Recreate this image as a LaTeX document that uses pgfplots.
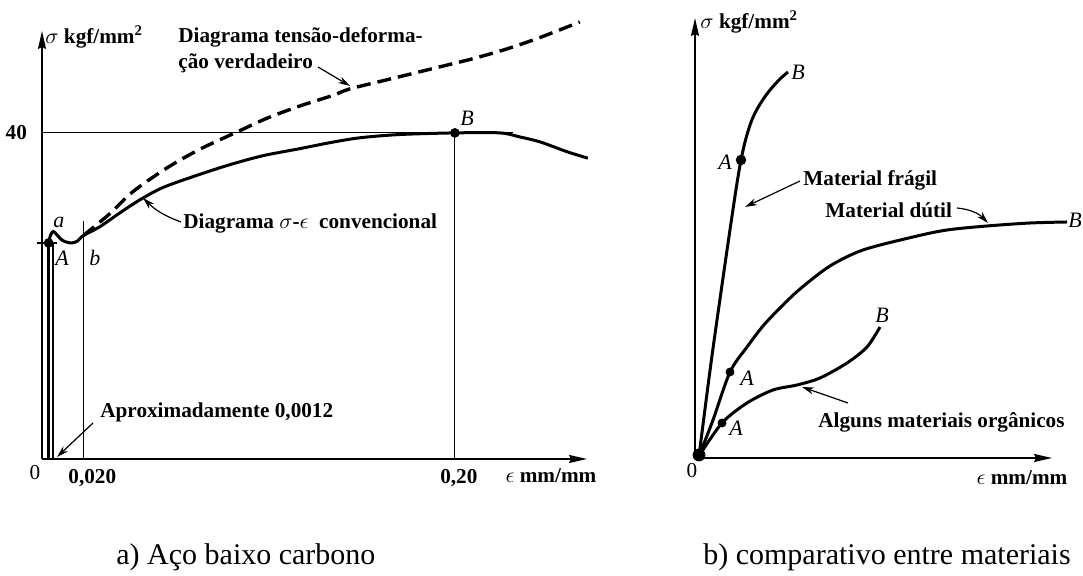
\documentclass[border=0pt]{standalone}
\usepackage{fontspec}
\setmainfont{Liberation Serif}
\usepackage{pgfplots}
\pgfplotsset{compat=1.18}
\usetikzlibrary{arrows.meta}

\newcommand\lbl{\bfseries\fontsize{10.6}{12.7}\selectfont}
\newcommand\ptl{\itshape\fontsize{11}{13}\selectfont}
\newcommand\capt{\fontsize{15}{17}\selectfont}

\pgfplotsset{
  sketch/.style={
    axis lines=left,
    axis line style={line width=0.9pt,-{Stealth[length=9pt,width=4pt,inset=1pt]}},
    scale only axis,
    xtick=\empty, ytick=\empty,
    clip=false,
    anchor=origin,
  },
  curve/.style={black, line width=1.5pt, smooth, no marks},
  thin/.style={black, line width=0.6pt, no marks},
}
\tikzset{annot/.style={line width=0.6pt, -{Stealth[length=6pt,width=3.5pt]}}}

\begin{document}
\begin{tikzpicture}
\path[use as bounding box] (0pt,0pt) rectangle (541.5pt,288pt);

% a) low carbon steel
\begin{axis}[sketch, at={(21pt,58.5pt)}, width=272.5pt, height=214pt,
  xmin=0, xmax=0.264, ymin=0, ymax=52.5]
\addplot[thin] coordinates {(0,40) (0.228,40)};
\addplot[thin] coordinates {(0.2,0) (0.2,40)};
\addplot[thin] coordinates {(0.02,0) (0.02,29.2)};
\addplot[thin] coordinates {(0.0053,0) (0.0053,26.5)};
\addplot[thin] coordinates {(-0.0024,26.5) (0.0073,26.5)};
\addplot[black, line width=1.8pt, no marks] coordinates {(0.0032,0) (0.0032,26.5)};
% conventional
\addplot[curve] coordinates {
  (0.0032,26.5) (0.0042,27.5) (0.0055,27.9) (0.0072,27.5) (0.010,26.8)
  (0.014,26.5) (0.017,26.7) (0.020,27.4) (0.0281,28.5) (0.0378,30.2) (0.0475,31.8)
  (0.0586,33.3) (0.0751,34.8) (0.0910,36.1) (0.1070,37.2) (0.1235,38.0)
  (0.1395,38.8) (0.1540,39.4) (0.1734,39.8) (0.2000,40.0) (0.2218,40.0)
  (0.2315,39.5) (0.2412,38.9) (0.2542,37.7) (0.2644,36.9)};
% true stress-strain
\addplot[curve, dash pattern=on 7pt off 3.5pt, line width=1.7pt] coordinates {
  (0.020,27.4) (0.0329,30.1) (0.0441,32.8) (0.0605,35.7) (0.0765,38.0)
  (0.0935,40.0) (0.1090,41.8) (0.1249,43.3) (0.1409,44.6) (0.1492,45.4)
  (0.1685,46.6) (0.1927,48.1) (0.2087,49.1) (0.2252,50.3) (0.2412,51.7)
  (0.2605,53.6)};
\addplot[only marks, mark=*, mark size=2.2pt] coordinates {(0.0032,26.5) (0.2,40)};
% tick labels
\node[font=\lbl, anchor=north, xshift=4.5pt, yshift=-1.5pt] at (axis cs:0.02,0) {0,020};
\node[font=\lbl, anchor=north, xshift=2pt, yshift=-1.5pt] at (axis cs:0.2,0) {0,20};
\node[font=\lbl, anchor=east, xshift=-4pt] at (axis cs:0,40) {40};
\end{axis}

% b) comparison of materials
\begin{axis}[sketch, at={(347.5pt,59pt)}, width=178.5pt, height=220pt,
  xmin=0, xmax=357, ymin=0, ymax=440]
% brittle
\addplot[curve] coordinates {
  (4,2) (16,95) (28,180) (36,235) (42,275) (46,298) (50,316) (55,333)
  (60,345) (67,357) (75,368) (85,379) (93,386)};
% ductile
\addplot[curve] coordinates {
  (4,2) (18,38) (35,86) (52,111) (68,132) (85,150) (105,169) (135,192)
  (168,208) (218,221) (252,228) (292,232) (335,235) (372,236)};
% organic
\addplot[curve] coordinates {
  (4,2) (27,35) (52,55) (78,68) (102,73) (125,80) (152,95) (172,111) (185,131)};
\addplot[only marks, mark=*, mark size=2.4pt] coordinates {(46,298)};
\addplot[only marks, mark=square*, mark size=2pt] coordinates {(35,86) (27,35)};
\addplot[only marks, mark=*, mark size=3pt] coordinates {(4,3)};
\end{axis}

\begin{scope}[x=0.5pt, y=0.5pt]
% left annotations
\node[anchor=west, inner sep=0] at (45,539) {\lbl$\sigma$ kgf/mm\textsuperscript{2}};
\node[anchor=base west, inner sep=0] at (178,533) {\lbl Diagrama tensão-deforma-};
\node[anchor=base west, inner sep=0] at (178,507) {\lbl ção verdadeiro};
\draw[annot] (318,509) -- (350,490);
\node[anchor=base west, inner sep=0] at (183,347) {\lbl Diagrama $\sigma$-$\epsilon$\ \ convencional};
\draw[annot] (181,354) to[bend left=12] (143,378);
\node[anchor=base west, inner sep=0] at (100,158) {\lbl Aproximadamente 0,0012};
\draw[annot] (93,153) -- (57,119);
\node at (59,354) {\ptl a};
\node at (62,318) {\ptl A};
\node at (95,318) {\ptl b};
\node at (467,458) {\ptl B};
\node at (35,103) {\fontsize{10.6}{12}\selectfont 0};
\node at (551,100) {\lbl$\epsilon$ mm/mm};
\node[anchor=base west, inner sep=0] at (116,11) {\capt a) Aço baixo carbono};

% right annotations
\node[anchor=west, inner sep=0] at (700,554) {\lbl$\sigma$ kgf/mm\textsuperscript{2}};
\node at (798,504) {\ptl B};
\node at (725,414) {\ptl A};
\node[anchor=west, inner sep=0] at (803,396) {\lbl Material frágil};
\draw[annot] (800,395) -- (745,369);
\node[anchor=west, inner sep=0] at (825,366) {\lbl Material dútil};
\draw[annot] (957,368) to[bend left=20] (988,353);
\node at (1075,356) {\ptl B};
\node at (747,198) {\ptl A};
\node at (736,148) {\ptl A};
\node at (882,261) {\ptl B};
\node[anchor=west, inner sep=0] at (818,154) {\lbl Alguns materiais orgânicos};
\draw[annot] (848,173) -- (802,189);
\node at (692,105) {\fontsize{10.6}{12}\selectfont 0};
\node at (1022,98) {\lbl$\epsilon$ mm/mm};
\node[anchor=base, inner sep=0] at (887,11) {\capt b) comparativo entre materiais};
\end{scope}
\end{tikzpicture}
\end{document}
